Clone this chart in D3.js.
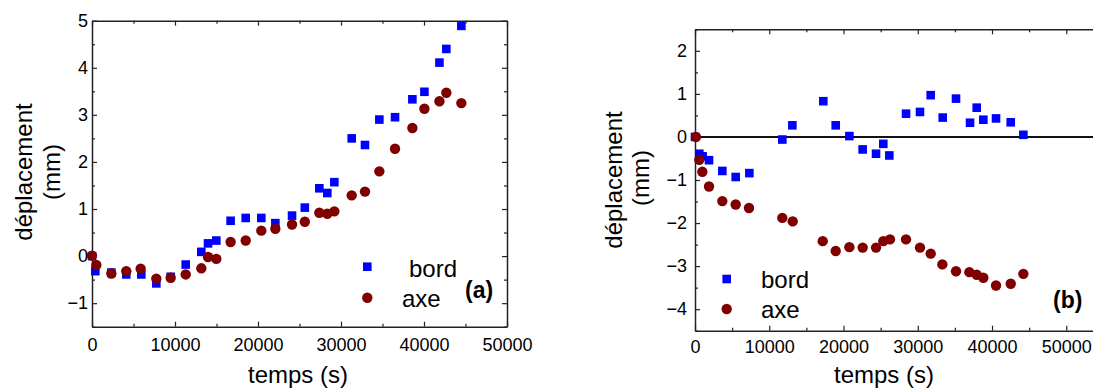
<!DOCTYPE html>
<html><head><meta charset="utf-8">
<script src="https://cdn.jsdelivr.net/npm/d3@7"></script>
<style>
html,body{margin:0;padding:0;background:#fff;}
text{font-family:"Liberation Sans",Arial,sans-serif;fill:#000;}
</style></head>
<body><svg id="chart" width="1093" height="390"></svg>
<script>
// Panel (a)
const aBordT = [0,400,2330,4130,5940,7750,9480,11290,13170,13980,14980,16700,18520,20400,22090,24100,25640,27390,28350,29200,31290,32890,34620,36510,38600,40050,41860,42690,44500];
const aBordV = [0.0,-0.32,-0.35,-0.39,-0.39,-0.58,-0.44,-0.18,0.09,0.27,0.33,0.75,0.81,0.81,0.70,0.86,1.03,1.44,1.34,1.57,2.50,2.36,2.90,2.95,3.33,3.49,4.11,4.40,4.89];
const aAxeT = [0,520,2330,4130,5860,7750,9480,11290,13170,13980,14980,16700,18520,20400,22090,24100,25640,27390,28350,29200,31290,32890,34620,36510,38600,40050,41860,42690,44500];
const aAxeV = [0.01,-0.19,-0.37,-0.32,-0.27,-0.48,-0.46,-0.39,-0.26,-0.02,-0.06,0.30,0.33,0.54,0.58,0.67,0.73,0.92,0.90,0.95,1.29,1.37,1.80,2.28,2.72,3.13,3.29,3.47,3.25];
// Panel (b)
const bBordT = [0,580,1030,1890,3680,5480,7320,11760,13110,17280,18950,20790,22580,24380,25360,26170,28420,30300,31740,33360,35150,37040,37940,38830,40540,42520,44220];
const bBordV = [0,-0.39,-0.45,-0.54,-0.79,-0.93,-0.84,-0.06,0.27,0.83,0.27,0.02,-0.29,-0.39,-0.16,-0.43,0.54,0.58,0.97,0.45,0.89,0.33,0.68,0.40,0.43,0.34,0.05];
const bAxeT = [130,580,990,1890,3680,5480,7270,11760,13160,17200,18950,20790,22580,24380,25360,26260,28420,30300,31740,33310,35150,36950,37940,38830,40540,42520,44220];
const bAxeV = [0,-0.53,-0.81,-1.15,-1.49,-1.57,-1.65,-1.88,-1.96,-2.42,-2.65,-2.56,-2.57,-2.57,-2.42,-2.38,-2.38,-2.57,-2.71,-2.96,-3.12,-3.14,-3.20,-3.27,-3.45,-3.41,-3.18];
// Ticks
const xTicks = [0,10000,20000,30000,40000,50000];
const xMinor = [5000,15000,25000,35000,45000,55000];
const aYTicks = [-1,0,1,2,3,4,5];
const bYTicks = [-4,-3,-2,-1,0,1,2];
const seriesNames = ["bord","axe"];
const colors = {bord:"#0000ff", axe:"#800000"};

const svg = d3.select("#chart");

function panel(cfg){
  const x = d3.scaleLinear().domain(cfg.xd).range(cfg.xr);
  const y = d3.scaleLinear().domain(cfg.yd).range(cfg.yr);
  const g = svg.append("g");
  const [x0,x1] = cfg.xr, [yb,yt] = cfg.yr;
  const yMinor = d3.range(cfg.yd[0], cfg.yd[1]+0.001, 0.5).filter(v=>!cfg.yTicks.includes(v));
  const xMin = xMinor.filter(v=>v<=cfg.xd[1]);
  const xMaj = xTicks.filter(v=>v<=cfg.xd[1]);

  if (cfg.zero){
    g.append("line").attr("x1",x0).attr("x2",x1).attr("y1",y(0)).attr("y2",y(0))
      .attr("stroke","#111").attr("stroke-width",2);
  }
  function style(sel){ sel.selectAll(".domain").attr("stroke","#222").attr("stroke-width",1.5);
    sel.selectAll(".tick line").attr("stroke","#222").attr("stroke-width",1.2); }
  // bottom
  const gb = g.append("g").attr("transform",`translate(0,${yb})`)
    .call(d3.axisBottom(x).tickValues(xMaj).tickSizeInner(-5).tickSizeOuter(0).tickPadding(cfg.xPad).tickFormat(d3.format("d")));
  gb.selectAll("text").attr("font-size",18).attr("font-family","Liberation Sans, Arial, sans-serif");
  style(gb);
  const gbm = g.append("g").attr("transform",`translate(0,${yb})`)
    .call(d3.axisBottom(x).tickValues(xMin).tickSizeInner(-3).tickSizeOuter(0).tickFormat(""));
  style(gbm); gbm.select(".domain").remove();
  // top
  const gt = g.append("g").attr("transform",`translate(0,${yt})`)
    .call(d3.axisTop(x).tickValues(xMaj).tickSizeInner(-5).tickSizeOuter(0).tickFormat(""));
  style(gt);
  const gtm = g.append("g").attr("transform",`translate(0,${yt})`)
    .call(d3.axisTop(x).tickValues(xMin).tickSizeInner(-3).tickSizeOuter(0).tickFormat(""));
  style(gtm); gtm.select(".domain").remove();
  // left
  const gl = g.append("g").attr("transform",`translate(${x0},0)`)
    .call(d3.axisLeft(y).tickValues(cfg.yTicks).tickSizeInner(-5).tickSizeOuter(0).tickPadding(cfg.yPad).tickFormat(d3.format("d")));
  gl.selectAll("text").attr("font-size",18).attr("font-family","Liberation Sans, Arial, sans-serif");
  style(gl);
  const glm = g.append("g").attr("transform",`translate(${x0},0)`)
    .call(d3.axisLeft(y).tickValues(yMinor).tickSizeInner(-3).tickSizeOuter(0).tickFormat(""));
  style(glm); glm.select(".domain").remove();
  // right
  const gr = g.append("g").attr("transform",`translate(${x1},0)`)
    .call(d3.axisRight(y).tickValues(cfg.yTicks).tickSizeInner(-5).tickSizeOuter(0).tickFormat(""));
  style(gr);
  const grm = g.append("g").attr("transform",`translate(${x1},0)`)
    .call(d3.axisRight(y).tickValues(yMinor).tickSizeInner(-3).tickSizeOuter(0).tickFormat(""));
  style(grm); grm.select(".domain").remove();

  // markers
  const sq = 8.6, r = 5.2;
  g.append("g").selectAll("rect").data(d3.zip(cfg.bordT,cfg.bordV)).join("rect")
    .attr("x",d=>x(d[0])-sq/2).attr("y",d=>y(d[1])-sq/2).attr("width",sq).attr("height",sq)
    .attr("fill",colors.bord);
  g.append("g").selectAll("circle").data(d3.zip(cfg.axeT,cfg.axeV)).join("circle")
    .attr("cx",d=>x(d[0])).attr("cy",d=>y(d[1])).attr("r",r).attr("fill",colors.axe);

  // titles
  g.append("text").attr("x",cfg.xt[0]).attr("y",cfg.xt[1]).attr("text-anchor","middle")
    .attr("font-size",24).text("temps (s)");
  g.append("text").attr("transform",`translate(${cfg.yt1[0]},${cfg.yt1[1]}) rotate(-90)`).attr("text-anchor","middle")
    .attr("font-size",24).text("déplacement");
  g.append("text").attr("transform",`translate(${cfg.yt2[0]},${cfg.yt2[1]}) rotate(-90)`).attr("text-anchor","middle")
    .attr("font-size",24).text("(mm)");

  // legend
  const L = cfg.leg;
  g.append("rect").attr("x",L.mx-sq/2).attr("y",L.y1-sq/2).attr("width",sq).attr("height",sq).attr("fill",colors.bord);
  g.append("circle").attr("cx",L.mx).attr("cy",L.y2).attr("r",r).attr("fill",colors.axe);
  g.append("text").attr("x",L.t1[0]).attr("y",L.t1[1]).attr("font-size",24).text(seriesNames[0]);
  g.append("text").attr("x",L.t2[0]).attr("y",L.t2[1]).attr("font-size",24).text(seriesNames[1]);
  g.append("text").attr("x",cfg.lab[0]).attr("y",cfg.lab[1]).attr("font-size",23).attr("font-weight","bold").text(cfg.label);
}

panel({xd:[0,50000], xr:[92,507], yd:[-1.5,5], yr:[326.7,20.7], yTicks:aYTicks,
  xPad:12, yPad:4,
  bordT:aBordT,bordV:aBordV,axeT:aAxeT,axeV:aAxeV,
  xt:[298,383], yt1:[32,172], yt2:[60,172],
  leg:{mx:367.3,y1:266.7,y2:297.7,t1:[409,276.5],t2:[402,306.5]},
  lab:[465,297.5], label:"(a)"});

panel({xd:[0,55000], xr:[695,1103.4], yd:[-4.5,2.5], yr:[330.7,29.3], yTicks:bYTicks,
  xPad:10, yPad:8, zero:true,
  bordT:bBordT,bordV:bBordV,axeT:bAxeT,axeV:bAxeV,
  xt:[884,383], yt1:[622,180], yt2:[648.5,178],
  leg:{mx:726.7,y1:279,y2:309,t1:[761,288],t2:[761,318]},
  lab:[1053,307.5], label:"(b)"});
</script></body></html>
